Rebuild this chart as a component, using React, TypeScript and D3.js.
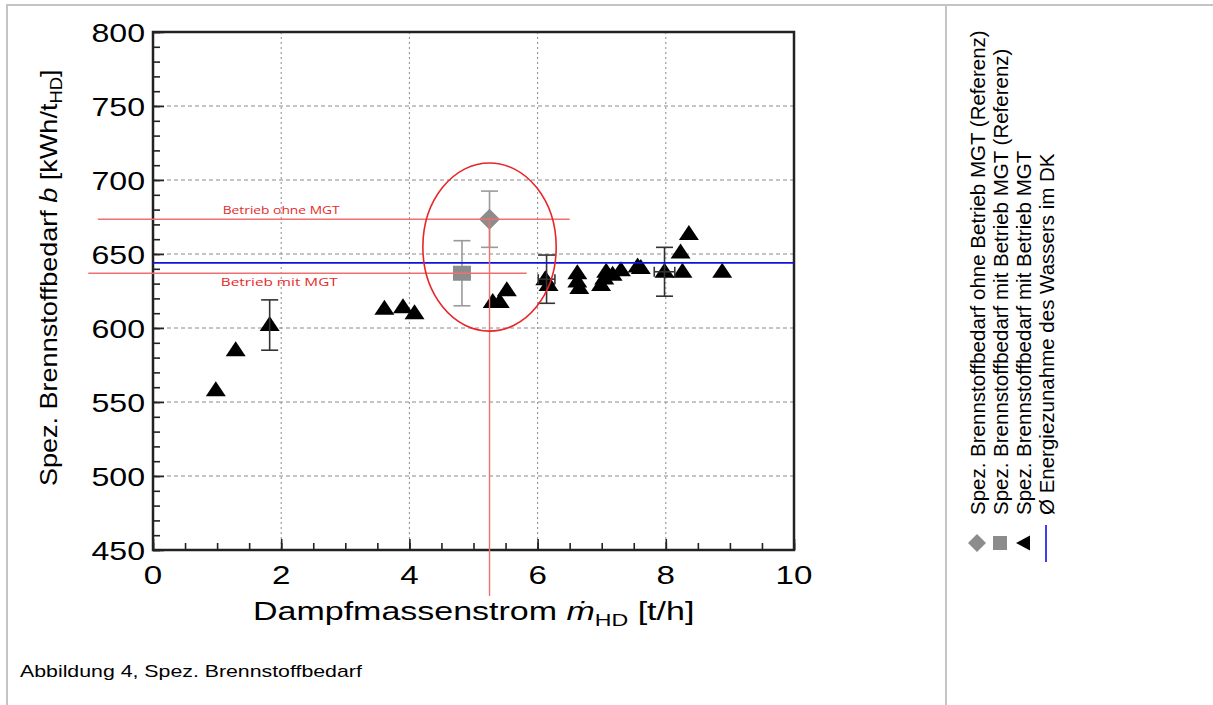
import * as d3 from 'd3';
import React, { useEffect, useRef } from 'react';

// axis ticks
const xTicks = [0, 2, 4, 6, 8, 10];
const yTicks = [450, 500, 550, 600, 650, 700, 750, 800];
const xGrid = [2, 4, 6, 8];
const yGrid = [500, 550, 600, 650, 700, 750];

// Spez. Brennstoffbedarf mit Betrieb MGT (triangles)
const mgtX = [0.98, 1.29, 1.82, 3.61, 3.9, 4.08, 5.3, 5.41, 5.52, 6.12, 6.17, 6.62, 6.62, 6.65, 6.99, 7.04, 7.07, 7.17, 7.3, 7.56, 7.61, 7.98, 8.26, 8.23, 8.36, 8.88];
const mgtY = [559, 586, 603, 614, 615, 611, 618.5, 618.5, 626.5, 634, 630, 638, 632.5, 628, 630, 634.5, 639, 637, 640, 642.5, 641.5, 639, 639, 652, 664.5, 639];

// error bars of the MGT series
const errX = [1.82, 6.14, 7.98];
const errY = [602, 633, 638];
const errDy = [17, 16.3, 16.5];
const errDx = [0, 0.13, 0.16];

// reference points: ohne MGT (diamond), mit MGT (square)
const refNames = ['ohne', 'mit'];
const refX = [5.25, 4.82];
const refY = [673.5, 637];
const refErr = [19, 22];

// Ø Energiezunahme des Wassers im DK
const energyAvg = 644;

// red annotations
const annoLabels = ['Betrieb ohne MGT', 'Betrieb mit MGT'];
const annoY = [673.5, 637];
const annoX0 = [-0.86, -1.01];
const annoX1 = [6.5, 5.83];
const annoLabelX = [2.0, 1.97];
const annoLabelY = [677, 628.4];
const vLine = { x: 5.25, y0: 673.5, y1: 419 };
const ellipse = { cx: 5.25, cy: 654.7, rx: 1.04, ry: 56.8 };

const legendLabels = [
  'Spez. Brennstoffbedarf ohne Betrieb MGT (Referenz)',
  'Spez. Brennstoffbedarf mit Betrieb MGT (Referenz)',
  'Spez. Brennstoffbedarf mit Betrieb MGT',
  'Ø Energiezunahme des Wassers im DK',
];

const FONT = '"Liberation Sans", Arial, sans-serif';

function drawChart(el: SVGSVGElement) {
  const svg = d3.select(el);
  svg.selectAll('*').remove();

  const x = d3.scaleLinear().domain([0, 10]).range([153, 794]);
  const y = d3.scaleLinear().domain([450, 800]).range([550, 32]);

  // outer table frame
  const frame = svg.append('g').attr('stroke', '#c4c4c4').attr('stroke-width', 2);
  frame.append('line').attr('x1', 6).attr('x2', 1213).attr('y1', 5).attr('y2', 5);
  frame.append('line').attr('x1', 7).attr('x2', 7).attr('y1', 5).attr('y2', 705);
  frame.append('line').attr('x1', 946).attr('x2', 946).attr('y1', 5).attr('y2', 705);

  // grid
  svg.append('g').selectAll('line').data(xGrid).join('line')
    .attr('x1', d => x(d)).attr('x2', d => x(d))
    .attr('y1', y(800)).attr('y2', y(450))
    .attr('stroke', '#8a8a8a').attr('stroke-width', 1).attr('stroke-dasharray', '2,3');
  svg.append('g').selectAll('line').data(yGrid).join('line')
    .attr('x1', x(0)).attr('x2', x(10))
    .attr('y1', d => y(d)).attr('y2', d => y(d))
    .attr('stroke', '#8a8a8a').attr('stroke-width', 1).attr('stroke-dasharray', '4,3');

  // inward ticks
  const tickStyle = (g: any) => {
    g.select('.domain').remove();
    g.selectAll('text').remove();
    g.selectAll('line').attr('stroke', '#222').attr('stroke-width', 1.6);
  };
  svg.append('g').attr('transform', `translate(${x(0)},0)`)
    .call(d3.axisLeft(y).tickValues(d3.range(450, 801, 10)).tickSize(-7)).call(tickStyle);
  svg.append('g').attr('transform', `translate(${x(0)},0)`)
    .call(d3.axisLeft(y).tickValues(yTicks).tickSize(-11)).call(tickStyle);
  svg.append('g').attr('transform', `translate(0,${y(450)})`)
    .call(d3.axisBottom(x).tickValues(d3.range(0, 10.01, 0.5)).tickSize(-7)).call(tickStyle);
  svg.append('g').attr('transform', `translate(0,${y(450)})`)
    .call(d3.axisBottom(x).tickValues(xTicks).tickSize(-11)).call(tickStyle);

  // plot frame
  svg.append('rect')
    .attr('x', x(0)).attr('y', y(800))
    .attr('width', x(10) - x(0)).attr('height', y(450) - y(800))
    .attr('fill', 'none').attr('stroke', '#222').attr('stroke-width', 2.5);

  // tick labels
  svg.append('g').selectAll('text').data(yTicks).join('text')
    .attr('transform', d => `translate(145,${y(d) + 10}) scale(1.26,1)`)
    .attr('text-anchor', 'end').attr('font-size', 25.5).attr('font-family', FONT)
    .attr('fill', '#000').text(d => d);
  svg.append('g').selectAll('text').data(xTicks).join('text')
    .attr('transform', d => `translate(${x(d)},584) scale(1.25,1)`)
    .attr('text-anchor', 'middle').attr('font-size', 26.5).attr('font-family', FONT)
    .attr('fill', '#000').text(d => d);

  // axis titles
  const yt = svg.append('text')
    .attr('transform', 'translate(57,486) rotate(-90) scale(1.15,1)')
    .attr('font-size', 23.5).attr('font-family', FONT).attr('fill', '#000');
  yt.append('tspan').text('Spez. Brennstoffbedarf ');
  yt.append('tspan').attr('font-style', 'italic').text('b');
  yt.append('tspan').text(' [kWh/t');
  yt.append('tspan').attr('font-size', 16).attr('dy', 5).text('HD');
  yt.append('tspan').attr('dy', -5).text(']');

  const xt = svg.append('text')
    .attr('transform', 'translate(253,620) scale(1.36,1)')
    .attr('font-size', 25).attr('font-family', FONT).attr('fill', '#000');
  xt.append('tspan').text('Dampfmassenstrom ');
  xt.append('tspan').attr('font-style', 'italic').text('ṁ');
  xt.append('tspan').attr('font-size', 17).attr('dy', 6).text('HD');
  xt.append('tspan').attr('dy', -6).text(' [t/h]');

  // error bars of reference points
  const cap = 8.5;
  refX.forEach((rx, i) => {
    const g = svg.append('g').attr('stroke', '#9a9a9a').attr('stroke-width', 1.6);
    g.append('line').attr('x1', x(rx)).attr('x2', x(rx)).attr('y1', y(refY[i] - refErr[i])).attr('y2', y(refY[i] + refErr[i]));
    [refY[i] - refErr[i], refY[i] + refErr[i]].forEach(v => {
      g.append('line').attr('x1', x(rx) - cap).attr('x2', x(rx) + cap).attr('y1', y(v)).attr('y2', y(v));
    });
  });

  // reference markers
  refNames.forEach((n, i) => {
    const cx = x(refX[i]), cy = y(refY[i]);
    if (n === 'ohne') {
      svg.append('path')
        .attr('d', `M${cx},${cy - 10.5}L${cx + 10.5},${cy}L${cx},${cy + 10.5}L${cx - 10.5},${cy}Z`)
        .attr('fill', '#8c8c8c');
    } else {
      svg.append('rect').attr('x', cx - 9).attr('y', cy - 7.5).attr('width', 18).attr('height', 15)
        .attr('fill', '#8c8c8c');
    }
  });

  // MGT triangles
  const tw = 20, th = 15;
  svg.append('g').selectAll('path').data(mgtX.map((v, i) => [v, mgtY[i]])).join('path')
    .attr('d', d => {
      const cx = x(d[0]), cy = y(d[1]);
      return `M${cx},${cy - th / 2}L${cx + tw / 2},${cy + th / 2}L${cx - tw / 2},${cy + th / 2}Z`;
    })
    .attr('fill', '#000');

  // MGT error bars
  errX.forEach((ex, i) => {
    const g = svg.append('g').attr('stroke', '#333').attr('stroke-width', 1.6);
    const cx = x(ex);
    g.append('line').attr('x1', cx).attr('x2', cx).attr('y1', y(errY[i] - errDy[i])).attr('y2', y(errY[i] + errDy[i]));
    [errY[i] - errDy[i], errY[i] + errDy[i]].forEach(v => {
      g.append('line').attr('x1', cx - cap).attr('x2', cx + cap).attr('y1', y(v)).attr('y2', y(v));
    });
    if (errDx[i] > 0) {
      const cy = y(errY[i]);
      g.append('line').attr('x1', x(ex - errDx[i])).attr('x2', x(ex + errDx[i])).attr('y1', cy).attr('y2', cy);
      [ex - errDx[i], ex + errDx[i]].forEach(v => {
        g.append('line').attr('x1', x(v)).attr('x2', x(v)).attr('y1', cy - 5).attr('y2', cy + 5);
      });
    }
  });

  // average energy line
  svg.append('line')
    .attr('x1', x(0)).attr('x2', x(10)).attr('y1', y(energyAvg)).attr('y2', y(energyAvg))
    .attr('stroke', '#1010e0').attr('stroke-width', 1.6);

  // red annotations
  annoY.forEach((v, i) => {
    svg.append('line')
      .attr('x1', x(annoX0[i])).attr('x2', x(annoX1[i])).attr('y1', y(v)).attr('y2', y(v))
      .attr('stroke', '#f07070').attr('stroke-width', 1.4);
    svg.append('text')
      .attr('x', x(annoLabelX[i])).attr('y', y(annoLabelY[i]))
      .attr('text-anchor', 'middle').attr('font-size', 11).attr('font-family', '"Open Sans", sans-serif')
      .attr('textLength', 117).attr('lengthAdjust', 'spacingAndGlyphs')
      .attr('fill', '#e82a2a').text(annoLabels[i]);
  });
  svg.append('line')
    .attr('x1', x(vLine.x)).attr('x2', x(vLine.x)).attr('y1', y(vLine.y0)).attr('y2', y(vLine.y1))
    .attr('stroke', '#f07070').attr('stroke-width', 1.4);
  svg.append('ellipse')
    .attr('cx', x(ellipse.cx)).attr('cy', y(ellipse.cy))
    .attr('rx', x(ellipse.rx) - x(0)).attr('ry', y(800 - ellipse.ry) - y(800))
    .attr('fill', 'none').attr('stroke', '#e8262a').attr('stroke-width', 1.6);

  // legend (rotated)
  const lx = [977, 1000, 1023, 1046];
  legendLabels.forEach((t, i) => {
    svg.append('text')
      .attr('transform', `translate(${lx[i] + 7.5},515) rotate(-90)`)
      .attr('font-size', 20.5).attr('font-family', FONT).attr('fill', '#000').text(t);
  });
  const ly = 543;
  svg.append('path')
    .attr('d', `M${lx[0]},${ly - 9}L${lx[0] + 9},${ly}L${lx[0]},${ly + 9}L${lx[0] - 9},${ly}Z`)
    .attr('fill', '#8c8c8c');
  svg.append('rect').attr('x', lx[1] - 7).attr('y', ly - 7).attr('width', 14).attr('height', 14).attr('fill', '#8c8c8c');
  svg.append('path')
    .attr('d', `M${lx[2] - 7},${ly}L${lx[2] + 7},${ly - 7.5}L${lx[2] + 7},${ly + 7.5}Z`)
    .attr('fill', '#000');
  svg.append('line').attr('x1', lx[3]).attr('x2', lx[3]).attr('y1', 525).attr('y2', 562)
    .attr('stroke', '#1010e0').attr('stroke-width', 1.6);

  // caption
  svg.append('text')
    .attr('transform', 'translate(20,677) scale(1.3,1)')
    .attr('font-size', 16.4).attr('font-family', FONT).attr('fill', '#000')
    .text('Abbildung 4, Spez. Brennstoffbedarf');
}

export default function App() {
  const ref = useRef<SVGSVGElement>(null);
  useEffect(() => {
    if (ref.current) drawChart(ref.current);
  }, []);
  return (
    <svg
      ref={ref}
      width={1213}
      height={705}
      style={{ position: 'absolute', left: 0, top: 0, background: '#fff' }}
    />
  );
}
